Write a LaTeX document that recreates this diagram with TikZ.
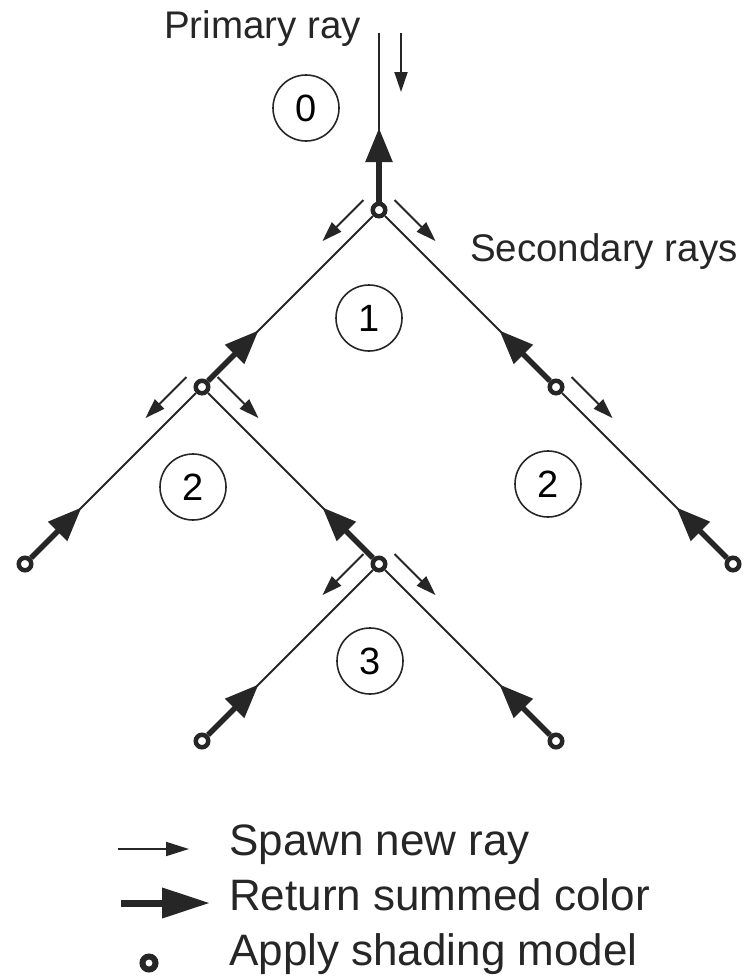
\documentclass[tikz,border=0pt]{standalone}
\usepackage{fontspec}
\setmainfont{Liberation Sans}
\usetikzlibrary{arrows.meta,calc}

\tikzset{
  edge/.style={line width=2pt, draw=black!85},
  ret/.style={line width=5.5pt, draw=black!85, line cap=butt,
    -{Triangle[length=34pt,width=26pt]}},
  spawn/.style={line width=2pt, draw=black!85,
    -{Triangle[length=20pt,width=13pt]}},
  shade/.style={circle, draw=black!85, fill=white, line width=4.5pt,
    minimum size=12.5pt, inner sep=0pt},
  level/.style={circle, draw=black!85, line width=1.6pt, minimum size=66pt,
    inner sep=0pt, font=\fontsize{38}{40}\selectfont},
  lbl/.style={font=\fontsize{38.5}{40}\selectfont, text=black!85, inner sep=0pt},
  legtext/.style={font=\fontsize{44}{46}\selectfont, text=black!85, inner sep=0pt,
    anchor=base west},
  keyspawn/.style={line width=2pt, draw=black!85,
    -{Triangle[length=23pt,width=14pt]}},
  keyret/.style={line width=7pt, draw=black!85, line cap=butt,
    -{Triangle[length=48pt,width=29pt]}},
  keyshade/.style={circle, draw=black!85, fill=white, line width=6pt,
    minimum size=13pt, inner sep=0pt}
}

% spawn arrow next to an edge: from node #1 towards node #2, offset to side #3
\newcommand{\spawnray}[3]{%
  \draw[spawn] ($(#1)!4pt!(#2)!18pt!#3:(#2)$) -- ($(#1)!62pt!(#2)!18pt!#3:(#2)$);}
% summed colour returned from child #1 towards parent #2
\newcommand{\returnray}[2]{%
  \draw[ret] (#1) -- ($(#1)!80pt!(#2)$);}

\begin{document}
\begin{tikzpicture}[x=1pt,y=1pt]
  \useasboundingbox (0,0) rectangle (751,-980);

  % ray tree
  \coordinate (top) at (379,-33);
  \node[shade] (A)  at (379,-210) {};
  \node[shade] (B)  at (202,-387) {};
  \node[shade] (C)  at (556,-387) {};
  \node[shade] (D)  at (379,-564) {};
  \node[shade] (L)  at (25,-564)  {};
  \node[shade] (R)  at (733,-564) {};
  \node[shade] (DL) at (202,-741) {};
  \node[shade] (DR) at (556,-741) {};

  \draw[edge] (top) -- (A);
  \draw[edge] (A) -- (B);
  \draw[edge] (A) -- (C);
  \draw[edge] (B) -- (L);
  \draw[edge] (B) -- (D);
  \draw[edge] (C) -- (R);
  \draw[edge] (D) -- (DL);
  \draw[edge] (D) -- (DR);

  % returned colours
  \draw[ret] (A) -- ($(A)!82pt!(top)$);
  \returnray{B}{A}
  \returnray{C}{A}
  \returnray{L}{B}
  \returnray{D}{B}
  \returnray{R}{C}
  \returnray{DL}{D}
  \returnray{DR}{D}

  % spawned rays
  \draw[spawn] ($(top)+(22,0)$) -- ($(top)+(22,-59)$);
  \spawnray{A}{B}{-90}
  \spawnray{A}{C}{90}
  \spawnray{B}{L}{-90}
  \spawnray{B}{D}{90}
  \spawnray{C}{R}{90}
  \spawnray{D}{DL}{-90}
  \spawnray{D}{DR}{90}

  % recursion levels
  \node[level] (n0) at (306,-108) {0};
  \node[level] (n1) at (369,-318) {1};
  \node[level] (n2a) at (193,-487) {2};
  \node[level] (n2b) at (548,-484) {2};
  \node[level] (n3) at (370,-661) {3};

  % labels
  \node[lbl, anchor=base west] (prim) at (164,-38) {Primary ray};
  \node[lbl, anchor=base west] (sec) at (470,-261) {Secondary rays};

  % legend
  \coordinate (k1a) at (118,-849);
  \coordinate (k1b) at (189,-849);
  \coordinate (k2a) at (121,-903);
  \coordinate (k2b) at (210,-903);
  \draw[keyspawn] (k1a) -- (k1b);
  \draw[keyret] (k2a) -- (k2b);
  \node[keyshade] (k3) at (149,-963) {};
  \node[legtext] (t1) at (229,-855) {Spawn new ray};
  \node[legtext] (t2) at (229,-910) {Return summed color};
  \node[legtext] (t3) at (229,-965) {Apply shading model};
\end{tikzpicture}
\end{document}
